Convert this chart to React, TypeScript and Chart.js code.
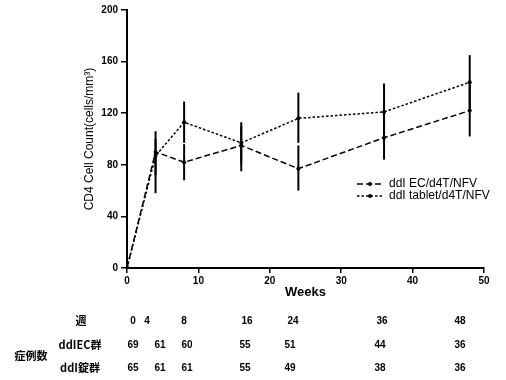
import React, { useEffect, useRef } from "react";
import { Chart, registerables } from "chart.js";

Chart.register(...registerables);

// ---- Data ----
const weeks = [0, 4, 8, 16, 24, 36, 48];
const ecValues = [0, 90, 82, 95, 77, 101, 122];
const ecLow = [0, 72, 68, 75, 60, 84, 102];
const ecHigh = [0, 106, 96, 113, 95, 118, 142];
const tabletValues = [0, 87, 113, 97, 116, 121, 144];
const tabletLow = [0, 58, 97, 81, 97, 100, 124];
const tabletHigh = [0, 100, 129, 110, 136, 143, 165];

const seriesNames = ["ddI EC/d4T/NFV", "ddI tablet/d4T/NFV"];

// bottom table
const tableWeekLabel = "週";
const tableHeader = ["0", "4", "8", "16", "24", "36", "48"];
const tableGroupLabel = "症例数";
const tableRowNames = ["ddIEC群", "ddI錠群"];
const ecCounts = ["69", "61", "60", "55", "51", "44", "36"];
const tabletCounts = ["65", "61", "61", "55", "49", "38", "36"];

// layout (not data)
const headerColX = [133, 147, 184, 247, 293, 382, 460];
const valueColX = [133, 160, 187, 245, 290, 380, 460];

const ecDash = [6, 3];
const tabletDash = [2.5, 2];

export default function App() {
  const ref = useRef<HTMLCanvasElement | null>(null);

  useEffect(() => {
    document.body.style.margin = "0";
    const canvas = ref.current;
    if (!canvas) return;

    const errorBars = {
      id: "errorBars",
      afterDatasetsDraw(chart: any) {
        const { ctx, scales } = chart;
        const xs = scales.x;
        const ys = scales.y;
        ctx.save();
        ctx.strokeStyle = "#000";
        ctx.lineWidth = 2;
        const sets = [
          [ecLow, ecHigh],
          [tabletLow, tabletHigh],
        ];
        sets.forEach(([lo, hi]) => {
          weeks.forEach((w, i) => {
            if (lo[i] === hi[i]) return;
            const x = xs.getPixelForValue(w);
            ctx.beginPath();
            ctx.moveTo(x, ys.getPixelForValue(lo[i]));
            ctx.lineTo(x, ys.getPixelForValue(hi[i]));
            ctx.stroke();
          });
        });
        ctx.restore();
      },
    };

    const customLegend = {
      id: "customLegend",
      afterDraw(chart: any) {
        const { ctx } = chart;
        ctx.save();
        const rows = [
          { name: seriesNames[0], dash: ecDash, y: 184 },
          { name: seriesNames[1], dash: tabletDash, y: 196 },
        ];
        rows.forEach((r) => {
          ctx.strokeStyle = "#000";
          ctx.lineWidth = 1.5;
          ctx.setLineDash(r.dash);
          ctx.beginPath();
          ctx.moveTo(357, r.y);
          ctx.lineTo(383, r.y);
          ctx.stroke();
          ctx.setLineDash([]);
          ctx.fillStyle = "#000";
          ctx.beginPath();
          ctx.arc(370, r.y, 2, 0, Math.PI * 2);
          ctx.fill();
          ctx.font = "12px 'Liberation Sans', Arial, sans-serif";
          ctx.textBaseline = "middle";
          ctx.textAlign = "left";
          ctx.fillText(r.name, 389, r.y);
        });
        ctx.restore();
      },
    };

    const table = {
      id: "bottomTable",
      afterDraw(chart: any) {
        const { ctx } = chart;
        ctx.save();
        ctx.fillStyle = "#000";
        ctx.textBaseline = "middle";
        ctx.textAlign = "center";
        const cjk = "bold 11px 'Noto Sans CJK JP', sans-serif";
        const num = "bold 10px 'Liberation Sans', Arial, sans-serif";
        ctx.font = cjk;
        ctx.fillText(tableWeekLabel, 81, 321);
        ctx.fillText(tableGroupLabel, 31, 356);
        ctx.fillText(tableRowNames[0], 80, 345);
        ctx.fillText(tableRowNames[1], 80, 368);
        ctx.font = num;
        tableHeader.forEach((t, i) => ctx.fillText(t, headerColX[i], 321));
        ecCounts.forEach((t, i) => ctx.fillText(t, valueColX[i], 345));
        tabletCounts.forEach((t, i) => ctx.fillText(t, valueColX[i], 368));
        ctx.restore();
      },
    };

    const chart = new Chart(canvas, {
      type: "line",
      data: {
        datasets: [
          {
            label: seriesNames[0],
            data: weeks.map((w, i) => ({ x: w, y: ecValues[i] })),
            borderColor: "#000",
            backgroundColor: "#000",
            borderWidth: 1.5,
            borderDash: ecDash,
            pointRadius: 2,
            pointBorderWidth: 0,
            tension: 0,
          },
          {
            label: seriesNames[1],
            data: weeks.map((w, i) => ({ x: w, y: tabletValues[i] })),
            borderColor: "#000",
            backgroundColor: "#000",
            borderWidth: 1.5,
            borderDash: tabletDash,
            pointRadius: 2,
            pointBorderWidth: 0,
            tension: 0,
          },
        ],
      },
      options: {
        animation: false,
        responsive: false,
        layout: { padding: { left: 80, top: 10, right: 22, bottom: 80 } },
        plugins: {
          legend: { display: false },
          tooltip: { enabled: false },
        },
        scales: {
          x: {
            type: "linear",
            min: 0,
            max: 50,
            afterFit: (s: any) => {
              s.height = 32;
            },
            ticks: {
              stepSize: 10,
              color: "#000",
              padding: 2,
              maxRotation: 0,
              font: { family: "'Liberation Sans', Arial, sans-serif", size: 10, weight: "bold" },
            },
            grid: {
              display: true,
              drawOnChartArea: false,
              drawTicks: true,
              tickLength: 5,
              color: "#000",
              lineWidth: 1.5,
            },
            border: { color: "#000", width: 2 },
            title: {
              display: true,
              text: "Weeks",
              color: "#000",
              padding: { top: 0, bottom: 0 },
              font: { family: "'Liberation Sans', Arial, sans-serif", size: 13, weight: "bold" },
            },
          },
          y: {
            type: "linear",
            min: 0,
            max: 200,
            afterFit: (s: any) => {
              s.width = 47;
            },
            ticks: {
              stepSize: 40,
              color: "#000",
              padding: 3,
              font: { family: "'Liberation Sans', Arial, sans-serif", size: 10, weight: "bold" },
            },
            grid: {
              display: true,
              drawOnChartArea: false,
              drawTicks: true,
              tickLength: 6,
              color: "#000",
              lineWidth: 1.5,
            },
            border: { color: "#000", width: 2 },
            title: {
              display: true,
              text: "CD4 Cell Count(cells/mm³)",
              color: "#000",
              padding: { top: 2, bottom: 0 },
              font: { family: "'Liberation Sans', Arial, sans-serif", size: 12 },
            },
          },
        },
      },
      plugins: [errorBars, customLegend, table],
    });

    return () => chart.destroy();
  }, []);

  return (
    <div style={{ width: 506, height: 380, position: "relative", background: "#fff" }}>
      <canvas ref={ref} width={506} height={380} style={{ display: "block" }} />
    </div>
  );
}
